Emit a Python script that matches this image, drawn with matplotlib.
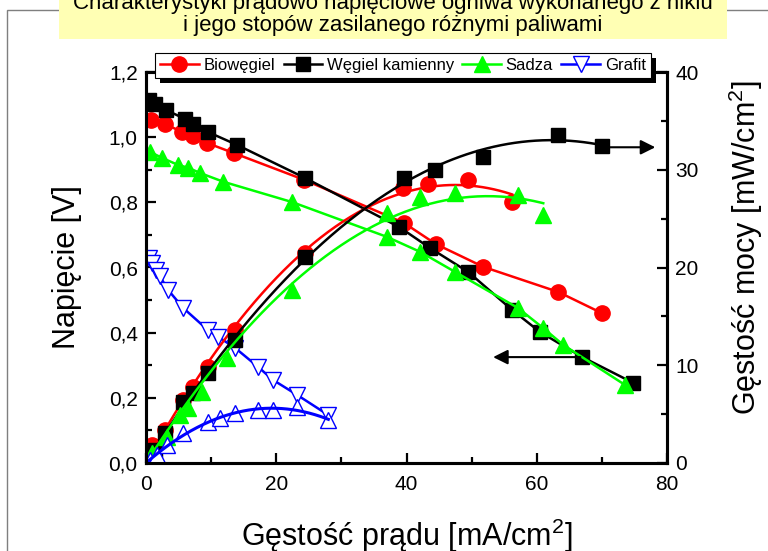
import numpy as np
import matplotlib
matplotlib.use("Agg")
import matplotlib.pyplot as plt
from matplotlib.lines import Line2D
from matplotlib.patches import Rectangle
from matplotlib.ticker import MultipleLocator, FuncFormatter
from matplotlib import font_manager

# -----------------------------
# Data
# -----------------------------
# Biowęgiel
x_bio_v = [0.8, 2.9, 5.5, 7.2, 9.4, 13.5, 24.3, 39.6, 44.5, 51.8, 63.3, 70.0]
v_bio = [1.053, 1.041, 1.016, 1.004, 0.982, 0.951, 0.869, 0.737, 0.672, 0.602, 0.525, 0.460]
x_bio_p = [0.9, 2.9, 5.7, 7.2, 9.5, 13.7, 24.4, 39.5, 43.3, 49.5, 56.2]
p_bio = [1.8, 3.4, 6.4, 7.8, 9.8, 13.6, 21.5, 28.1, 28.5, 29.0, 26.7]

# Węgiel kamienny
x_coal_v = [0.5, 1.4, 3.1, 6.0, 7.2, 9.5, 14.0, 24.4, 38.9, 43.6, 49.5, 56.2, 60.5, 67.0, 74.8]
v_coal = [1.114, 1.102, 1.083, 1.056, 1.040, 1.016, 0.976, 0.875, 0.724, 0.660, 0.586, 0.470, 0.402, 0.325, 0.246]
x_coal_p = [0.5, 1.4, 2.9, 5.7, 7.2, 9.5, 13.7, 24.4, 39.6, 44.4, 51.8, 63.3, 70.0]
p_coal = [0.5, 1.3, 3.1, 6.2, 7.2, 9.2, 12.6, 21.1, 29.2, 30.0, 31.3, 33.6, 32.4]

# Sadza
x_soot_v = [0.6, 2.5, 4.9, 6.5, 8.3, 11.9, 22.4, 37.0, 42.1, 47.5, 57.1, 61.0, 64.1, 73.6]
v_soot = [0.955, 0.936, 0.915, 0.906, 0.890, 0.863, 0.801, 0.694, 0.648, 0.586, 0.476, 0.414, 0.362, 0.239]
x_soot_p = [0.9, 3.2, 5.2, 6.5, 8.6, 12.4, 22.4, 37.0, 42.1, 47.5, 57.1, 61.0]
p_soot = [1.0, 2.7, 4.9, 5.6, 7.3, 10.7, 17.7, 25.6, 27.2, 27.6, 27.4, 25.4]

# Grafit
x_graf_v = [0.5, 0.9, 1.5, 2.1, 3.4, 5.7, 9.5, 11.1, 13.7, 17.2, 19.5, 23.2, 28.0]
v_graf = [0.629, 0.614, 0.592, 0.574, 0.531, 0.476, 0.408, 0.387, 0.353, 0.295, 0.255, 0.209, 0.147]
x_graf_p = [0.6, 1.7, 3.2, 5.7, 9.5, 11.4, 13.7, 17.2, 19.5, 23.2, 28.0]
p_graf = [0.3, 0.8, 1.8, 3.1, 4.2, 4.6, 5.1, 5.4, 5.4, 5.7, 4.4]

labels = ["Biowęgiel", "Węgiel kamienny", "Sadza", "Grafit"]

# arrows pointing to the axis each group belongs to
arrow_p = (70.8, 78.2, 32.3)   # x start, x end, power
arrow_v = (66.7, 53.3, 0.325)  # x start, x end, voltage

title_1 = "Charakterystyki prądowo napięciowe ogniwa wykonanego z niklu"
title_2 = "i jego stopów zasilanego różnymi paliwami"

# -----------------------------
# Fonts
# -----------------------------
names = {f.name for f in font_manager.fontManager.ttflist}
narrow = "Liberation Sans Narrow" if "Liberation Sans Narrow" in names else "Liberation Sans"
plt.rcParams["font.family"] = ["Liberation Sans", "DejaVu Sans"]
plt.rcParams["mathtext.fontset"] = "custom"
plt.rcParams["mathtext.rm"] = "Liberation Sans"


def quad_fit(x, y):
    # quadratic trend through the origin, as in the original fit lines
    x = np.asarray(x, float)
    y = np.asarray(y, float)
    A = np.column_stack([x, x ** 2])
    coef, *_ = np.linalg.lstsq(A, y, rcond=None)
    xs = np.linspace(0, x.max(), 200)
    return xs, coef[0] * xs + coef[1] * xs ** 2


fig = plt.figure(figsize=(7.68, 5.51), dpi=100)
W, H = 768, 551

# outer gray frame and yellow title box
fig.add_artist(Rectangle((7 / W, -0.1), 1.2, 1 - 9.5 / H + 0.1, transform=fig.transFigure,
                         fill=False, edgecolor="#7f7f7f", lw=1, zorder=0.1))
fig.add_artist(Rectangle((59 / W, 1 - 39 / H), (727 - 59) / W, 0.2, transform=fig.transFigure,
                         facecolor="#ffffb4", edgecolor="none", zorder=0.2))
fig.text(393 / W, 1 - 4 / H, title_1, ha="center", va="center", fontsize=16,
         family=narrow, zorder=1)
fig.text(393 / W, 1 - 26 / H, title_2, ha="center", va="center", fontsize=16,
         family=narrow, zorder=1)

ax = fig.add_axes([146 / W, 1 - 463 / H, (667 - 146) / W, (463 - 72) / H])
ax2 = ax.twinx()

red, black, green, blue = "#ff0000", "#000000", "#00ff00", "#0000ff"
lw = 1.8

# voltage curves (left axis)
ax.plot(x_bio_v, v_bio, color=red, lw=lw, marker="o", ms=11, mec=red, zorder=3)
ax.plot(x_coal_v, v_coal, color=black, lw=lw, marker="s", ms=10, mec=black, zorder=3)
ax.plot(x_soot_v, v_soot, color=green, lw=lw, marker="^", ms=12, mec=green, zorder=3)
ax.plot(x_graf_v, v_graf, color=blue, lw=lw, marker="v", ms=12, mfc="white", mec=blue,
        mew=1.0, zorder=3)

# power curves (right axis): markers + fitted trend
for xp, pp, c, m, ms in [(x_bio_p, p_bio, red, "o", 11), (x_coal_p, p_coal, black, "s", 10),
                         (x_soot_p, p_soot, green, "^", 12)]:
    ax2.plot(xp, pp, ls="none", marker=m, ms=ms, color=c, mec=c)
    xs, ys = quad_fit(xp, pp)
    ax2.plot(xs, ys, color=c, lw=lw)
ax2.plot(x_graf_p, p_graf, ls="none", marker="^", ms=12, mfc="white", mec=blue, mew=1.0)
xs, ys = quad_fit(x_graf_p, p_graf)
ax2.plot(xs, ys, color=blue, lw=2.2)

# arrows
ax2.annotate("", xy=(arrow_p[1], arrow_p[2]), xytext=(arrow_p[0], arrow_p[2]),
             arrowprops=dict(arrowstyle="-|>", color="k", lw=1.5, mutation_scale=22,
                             shrinkA=0, shrinkB=0))
ax.annotate("", xy=(arrow_v[1], arrow_v[2]), xytext=(arrow_v[0], arrow_v[2]),
            arrowprops=dict(arrowstyle="-|>", color="k", lw=1.5, mutation_scale=22,
                            shrinkA=0, shrinkB=0))

# axes styling
ax.set_xlim(0, 80)
ax.set_ylim(0, 1.2)
ax2.set_ylim(0, 40)
ax.xaxis.set_major_locator(MultipleLocator(20))
ax.xaxis.set_minor_locator(MultipleLocator(10))
ax.yaxis.set_major_locator(MultipleLocator(0.2))
ax.yaxis.set_minor_locator(MultipleLocator(0.1))
ax2.yaxis.set_major_locator(MultipleLocator(10))
ax2.yaxis.set_minor_locator(MultipleLocator(5))
ax.yaxis.set_major_formatter(FuncFormatter(lambda v, _: f"{v:.1f}".replace(".", ",")))

for a in (ax, ax2):
    for s in a.spines.values():
        s.set_linewidth(2.2)
    a.tick_params(which="both", direction="in", labelsize=15, width=1.6)
    a.tick_params(which="major", length=7, pad=6)
    a.tick_params(which="minor", length=4)
ax.tick_params(axis="y", which="both", right=False)
ax.tick_params(axis="x", which="both", top=False)
ax.tick_params(axis="x", which="major", pad=9)

ax.set_ylabel("Napięcie [V]", fontsize=22)
ax.yaxis.set_label_coords(-0.123, 0.5)
ax2.set_ylabel(r"Gęstość mocy [mW/cm$^\mathregular{2}$]", fontsize=22)
ax2.yaxis.set_label_coords(1.115, 0.55)
ax.set_xlabel(r"Gęstość prądu [mA/cm$^\mathregular{2}$]", fontsize=22, labelpad=16)

# legend with hard black shadow
handles = [
    Line2D([], [], color=red, lw=lw, marker="o", ms=11),
    Line2D([], [], color=black, lw=lw, marker="s", ms=10),
    Line2D([], [], color=green, lw=lw, marker="^", ms=12),
    Line2D([], [], color=blue, lw=lw, marker="v", ms=12, mfc="white", mew=1.0),
]
leg = fig.legend(handles, labels, loc="center", bbox_to_anchor=(403 / W, 1 - 65 / H),
                 ncol=4, fontsize=12, handlelength=2.3, handletextpad=0.3,
                 columnspacing=0.5, borderpad=0.3, fancybox=False, frameon=True,
                 edgecolor="black", framealpha=1)
leg.get_frame().set_linewidth(0.8)
leg.set_zorder(5)

fig.canvas.draw()
bb = leg.get_window_extent()
off = 5
fig.add_artist(Rectangle(((bb.x0 + off) / W, (bb.y0 - off) / H), bb.width / W, bb.height / H,
                         transform=fig.transFigure, facecolor="black", edgecolor="none",
                         zorder=4))

fig.savefig("out.png", dpi=100)
